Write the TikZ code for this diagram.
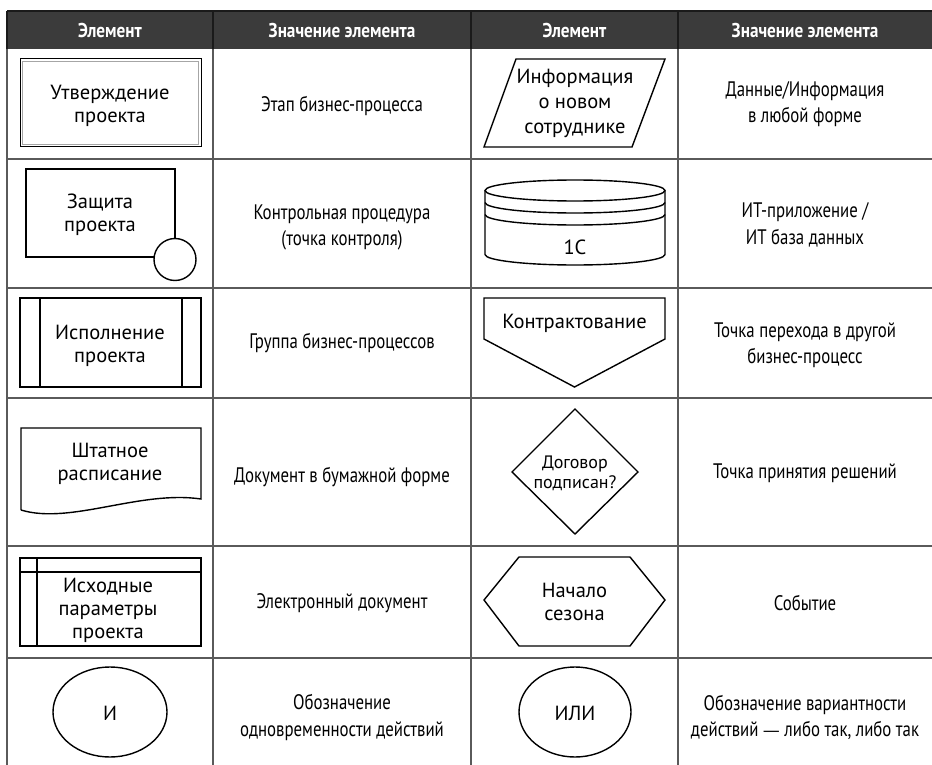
\documentclass[tikz,border=0pt]{standalone}
\usepackage{fontspec}
\setmainfont{PT Sans}
\newfontfamily\descfont{PT Sans}[FakeStretch=0.8]
\newfontfamily\headfont{PT Sans}[FakeStretch=0.86]
\newfontfamily\dashfont{DejaVu Sans}
\definecolor{headgray}{HTML}{3B3B3B}
\definecolor{rulegray}{HTML}{5A5A5A}
\definecolor{headrule}{HTML}{1A1A1A}
\begin{document}
\begin{tikzpicture}[x=1pt,y=-1pt,
  shapeline/.style={line width=1.4pt, black, line join=miter},
  tablerule/.style={line width=1.7pt, rulegray},
  lbl/.style={font=\fontsize{20.5}{23}\selectfont, align=center, inner sep=0pt},
  smalllbl/.style={font=\fontsize{18}{20}\selectfont, align=center, inner sep=0pt},
  desc/.style={font=\descfont\fontsize{21}{26.5}\selectfont, align=center, inner sep=0pt},
  headtxt/.style={font=\headfont\bfseries\fontsize{20}{22}\selectfont, text=white, inner sep=0pt}]
\useasboundingbox (0,0) rectangle (932,765);

% ---- header band ----
\fill[headgray] (7,11) rectangle (932,49);
\draw[line width=1.6pt, headrule] (7,11) -- (932,11);
\foreach \cx in {213,471,678} \draw[line width=1.6pt, headrule] (\cx,11) -- (\cx,49);
\node[headtxt] (h1) at (110,30.5) {Элемент};
\node[headtxt] (h2) at (342,30.5) {Значение элемента};
\node[headtxt] (h3) at (574.5,30.5) {Элемент};
\node[headtxt] (h4) at (805,30.5) {Значение элемента};

% ---- table rules ----
\draw[line width=1.7pt, headrule] (7,11) -- (7,49);
\draw[tablerule] (7,49) -- (7,765);
\foreach \cx in {213,471,678} \draw[tablerule] (\cx,49) -- (\cx,765);
\foreach \ry in {159,288,398,546,658} \draw[tablerule] (7,\ry) -- (932,\ry);

% ---- row 1 ----
\draw[line width=1pt, black] (20,59) rectangle (201,147);
\draw[line width=1pt, gray!70] (22.5,61.5) rectangle (198.5,144.5);
\node[lbl] (stage) at (110,106) {Утверждение\\проекта};
\draw[shapeline] (516,59) -- (665,59) -- (632,147) -- (484,147) -- cycle;
\node[lbl, font=\fontsize{20.5}{25}\selectfont] (info) at (575,103.5) {Информация\\о новом\\сотруднике};
\node[desc] (d1) at (342,106) {Этап бизнес-процесса};
\node[desc] (d2) at (805,104) {Данные/Информация\\в любой форме};

% ---- row 2 ----
\draw[shapeline] (26,169) rectangle (175,257);
\draw[shapeline, fill=white] (175,259.5) circle[radius=21];
\node[lbl] (check) at (100,215) {Защита\\проекта};
\draw[shapeline] (485,190.5) -- (485,254.5) arc[start angle=180, end angle=0, x radius=90, y radius=10.5] -- (665,190.5);
\draw[shapeline] (575,190.5) ellipse[x radius=90, y radius=10.5];
\draw[shapeline] (485,202.5) arc[start angle=180, end angle=0, x radius=90, y radius=10.5];
\draw[shapeline] (485,214.5) arc[start angle=180, end angle=0, x radius=90, y radius=10.5];
\node[lbl] (app) at (575,247) {1С};
\node[desc] (d3) at (342,227.5) {Контрольная процедура\\(точка контроля)};
\node[desc] (d4) at (805,225) {ИТ-приложение /\\ИТ база данных};

% ---- row 3 ----
\draw[shapeline] (20,298) rectangle (201,387);
\draw[shapeline] (40,298) -- (40,387) (182,298) -- (182,387);
\node[lbl] (group) at (110,345.5) {Исполнение\\проекта};
\draw[shapeline] (484,298) -- (665,298) -- (665,339) -- (574.5,387) -- (484,339) -- cycle;
\node[lbl] (jump) at (574.5,323) {Контрактование};
\node[desc] (d5) at (342,343) {Группа бизнес-процессов};
\node[desc] (d6) at (805,345) {Точка перехода в другой\\бизнес-процесс};

% ---- row 4 ----
\draw[shapeline] (21,510) -- (21,428) -- (201,428) -- (201,499)
  .. controls (140,490) and (70,525) .. (21,510);
\node[lbl] (paper) at (110,463.5) {Штатное\\расписание};
\draw[shapeline] (575,409) -- (638,472) -- (575,534) -- (512,472) -- cycle;
\node[smalllbl] (decide) at (575,473) {Договор\\подписан?};
\node[desc] (d7) at (342,477) {Документ в бумажной форме};
\node[desc] (d8) at (805,473) {Точка принятия решений};

% ---- row 5 ----
\draw[shapeline] (20,558) rectangle (201,646);
\draw[shapeline] (20,572) -- (201,572) (37,558) -- (37,646);
\node[lbl] (edoc) at (108,610) {Исходные\\параметры\\проекта};
\draw[shapeline] (484,600) -- (519,557) -- (630,557) -- (665,600) -- (630,646) -- (519,646) -- cycle;
\node[lbl] (event) at (574.5,601.5) {Начало\\сезона};
\node[desc] (d9) at (342,603) {Электронный документ};
\node[desc] (d10) at (805,603) {Событие};

% ---- row 6 ----
\draw[shapeline] (110,712) ellipse[x radius=57, y radius=45];
\node[lbl] (and) at (110,713) {И};
\draw[shapeline] (575,712) ellipse[x radius=56, y radius=45];
\node[lbl] (or) at (575,713) {ИЛИ};
\node[desc] (d11) at (342,717.5) {Обозначение\\одновременности действий};
\node[desc] (d12) at (805,717.5) {Обозначение вариантности\\действий {\dashfont\fontsize{17}{20}\selectfont —} либо так, либо так};
\end{tikzpicture}
\end{document}
